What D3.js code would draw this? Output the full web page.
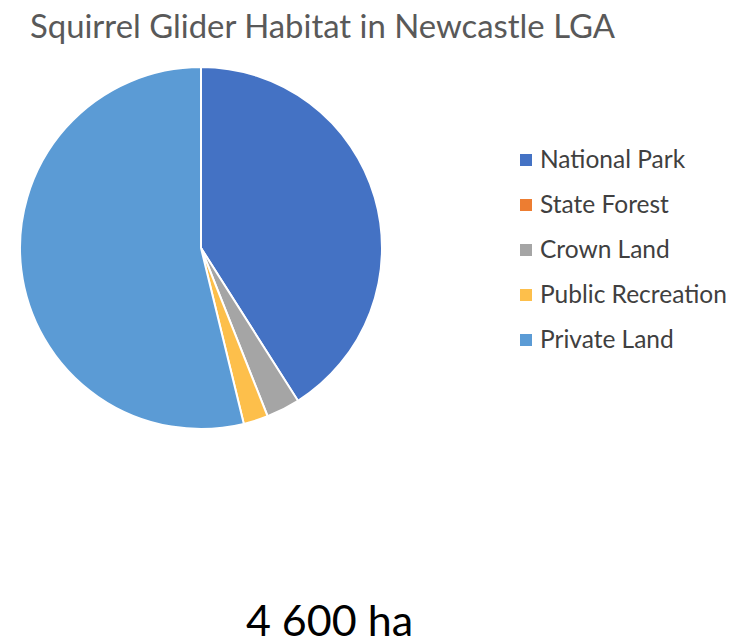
<!DOCTYPE html>
<html>
<head>
<meta charset="utf-8">
<script src="https://cdn.jsdelivr.net/npm/d3@7"></script>
<style>
  body { margin: 0; background: #fff; }
  svg { display: block; }
</style>
</head>
<body>
<svg id="chart"></svg>
<script>
    // Data
    const categories = ['National Park', 'State Forest', 'Crown Land', 'Public Recreation', 'Private Land'];
    const values = [41.0, 0, 3.0, 2.2, 53.8];
    const colors = ['#4472C4', '#ED7D31', '#A5A5A5', '#FDBF4B', '#5B9BD5'];
    const totalLabel = '4 600 ha';

    const width = 743, height = 644;
    const svg = d3.select('#chart').attr('width', width).attr('height', height);

    // Title
    svg.append('text')
        .attr('x', 30)
        .attr('y', 38)
        .attr('font-family', 'Lato, sans-serif')
        .attr('font-size', '32px')
        .attr('fill', '#595959')
        .attr('textLength', 585)
        .attr('lengthAdjust', 'spacingAndGlyphs')
        .text('Squirrel Glider Habitat in Newcastle LGA');

    // Pie
    const cx = 201, cy = 248, radius = 181;
    const pie = d3.pie().sort(null).value(d => d.value);
    const arc = d3.arc().innerRadius(0).outerRadius(radius);
    const data = categories.map((c, i) => ({ name: c, value: values[i], color: colors[i] }));

    const g = svg.append('g').attr('transform', `translate(${cx},${cy})`);
    g.selectAll('path')
        .data(pie(data).filter(d => d.data.value > 0))
        .enter()
        .append('path')
        .attr('d', arc)
        .attr('fill', d => d.data.color)
        .attr('stroke', '#fff')
        .attr('stroke-width', 2);

    // Legend
    const legend = svg.append('g').attr('transform', 'translate(520,160)');
    const rows = legend.selectAll('g')
        .data(data)
        .enter()
        .append('g')
        .attr('transform', (d, i) => `translate(0,${i * 45})`);
    rows.append('rect')
        .attr('x', 0).attr('y', -6)
        .attr('width', 12).attr('height', 12)
        .attr('fill', d => d.color);
    rows.append('text')
        .attr('x', 20)
        .attr('y', 8)
        .attr('font-family', 'Lato, sans-serif')
        .attr('font-size', '24.5px')
        .attr('fill', '#404040')
        .text(d => d.name);

    // Total
    svg.append('text')
        .attr('x', 329.5)
        .attr('y', 636)
        .attr('text-anchor', 'middle')
        .attr('font-family', 'Lato, sans-serif')
        .attr('font-size', '43px')
        .attr('fill', '#000')
        .text(totalLabel);
</script>
</body>
</html>
